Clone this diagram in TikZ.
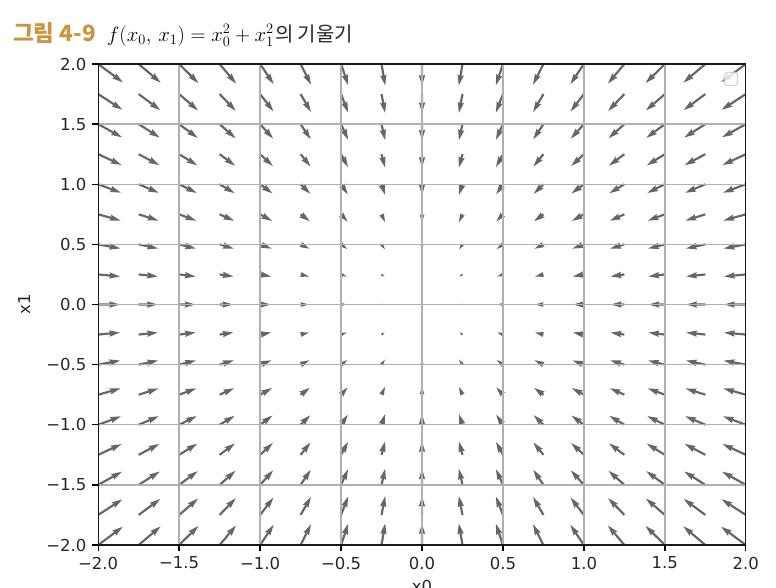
\documentclass[tikz,border=0pt]{standalone}
\usepackage{fontspec}
\newfontfamily\dejavu{DejaVu Sans}
\newfontfamily\kofont{Noto Sans CJK KR}
\definecolor{arrowgray}{HTML}{666666}
\definecolor{gridgray}{HTML}{B0B0B0}
\definecolor{titlegold}{HTML}{C8963E}
\definecolor{legendedge}{HTML}{CCCCCC}
\begin{document}
\begin{tikzpicture}[x=1pt,y=-1pt,
  tickmark/.style={line width=1.32pt, black},
  ticklabel/.style={font=\dejavu\fontsize{16.5}{18}\selectfont, inner sep=0pt, text=black!85},
  gridline/.style={line width=1.32pt, gridgray},
  spine/.style={line width=1.32pt, black!90},
  qarrow/.style={fill=arrowgray},
  legendframe/.style={fill=white, fill opacity=0.8, draw=legendedge, draw opacity=0.8, line width=1.32pt, rounded corners=3.3pt},
]
\useasboundingbox (0,0) rectangle (776,587);

% quiver arrows (negative gradient of x0^2 + x1^2)
\begin{scope}
\clip (98.2,64) rectangle (745.8,545);
\foreach \i in {0,...,16}{
 \foreach \j in {0,...,16}{
  \pgfmathsetmacro\a{-2+0.25*\i}
  \pgfmathsetmacro\b{-2+0.25*\j}
  \pgfmathsetmacro\L{5.4*2*sqrt(\a*\a+\b*\b)/2.15}
  \ifdim\L pt>0.01pt
   \pgfmathsetmacro\ang{atan2(-\b*1.2025,-\a*1.619)}
   \pgfmathsetmacro\tx{422+161.9*\a}
   \pgfmathsetmacro\ty{304.5-120.25*\b}
   \begin{scope}[shift={(\tx,\ty)},rotate=\ang,x=2.15pt,y=2.15pt]
     \ifdim\L pt<5pt
       \pgfmathsetmacro\s{\L/5}
       \fill[qarrow] (0,0.5*\s) -- (0.5*\s,0.5*\s) -- (0,1.5*\s) -- (5*\s,0) -- (0,-1.5*\s) -- (0.5*\s,-0.5*\s) -- (0,-0.5*\s) -- cycle;
     \else
       \fill[qarrow] (0,0.5) -- (\L-4.5,0.5) -- (\L-5,1.5) -- (\L,0) -- (\L-5,-1.5) -- (\L-4.5,-0.5) -- (0,-0.5) -- cycle;
     \fi
   \end{scope}
  \fi
 }
}
\end{scope}

% grid, ticks and tick labels
\foreach \k/\lab [count=\n] in {-2/−2.0,-1.5/−1.5,-1/−1.0,-0.5/−0.5,0/0.0,0.5/0.5,1/1.0,1.5/1.5,2/2.0}{
  \draw[gridline] ({422+161.9*\k},64) -- ({422+161.9*\k},545);
  \draw[gridline] (98.2,{304.5-120.25*\k}) -- (745.8,{304.5-120.25*\k});
  \draw[tickmark] ({422+161.9*\k},545) -- ({422+161.9*\k},550.8);
  \draw[tickmark] (98.2,{304.5-120.25*\k}) -- (92.4,{304.5-120.25*\k});
  \node[ticklabel, anchor=north] (xt\n) at ({422+161.9*\k},556.6) {\lab};
  \node[ticklabel, anchor=east] (yt\n) at (86.6,{304.5-120.25*\k}) {\lab};
}

% spines
\draw[spine] (98.2,64) rectangle (745.8,545);

% empty legend
\draw[legendframe] (724.3,72.3) rectangle (737.5,85.5);

% axis labels
\node[ticklabel, rotate=90] (ylab) at (24,304.5) {x1};
\node[ticklabel, anchor=north] (xlab) at (422,580) {x0};

% title
\node[anchor=base west, inner sep=0pt, font=\kofont\bfseries\fontsize{22.5}{26}\selectfont, text=titlegold] (tnum) at (13,41) {그림 4-9};
\node[anchor=base west, inner sep=0pt, font=\fontsize{21.5}{26}\selectfont] (tfor) at (107,41) {$f(x_0,\,x_1) = x_0^2 + x_1^2$};
\node[anchor=base west, inner sep=0pt, font=\kofont\fontsize{20}{24}\selectfont, text=black!85] (tword) at ([xshift=1pt]tfor.base east) {의 기울기};
\end{tikzpicture}
\end{document}
